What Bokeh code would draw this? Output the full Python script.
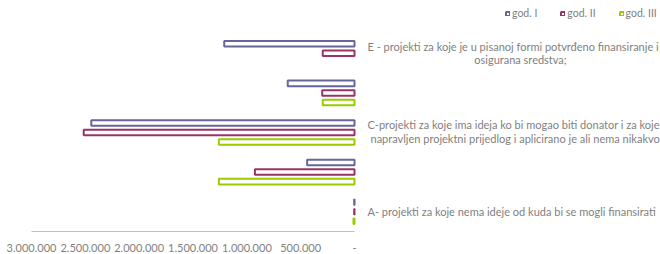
from bokeh.plotting import figure
from bokeh.models import Range1d, FixedTicker, Label, ColumnDataSource
from bokeh.transform import dodge
from bokeh.embed import file_html
from bokeh.resources import INLINE

# ---- data ----
categories = ["A", "B", "C", "D", "E"]
series_names = ["god. I", "god. II", "god. III"]
god_1 = [3000, 440000, 2445000, 620000, 1210000]
god_2 = [3000, 925000, 2515000, 300000, 295000]
god_3 = [9000, 1260000, 1260000, 295000, 0]
tick_values = [0, 500000, 1000000, 1500000, 2000000, 2500000, 3000000]
tick_labels = ["-", "500.000", "1.000.000", "1.500.000", "2.000.000", "2.500.000", "3.000.000"]
label_E = ["E - projekti za koje je u pisanoj formi potvrđeno finansiranje i",
           "osigurana sredstva;"]
label_C = ["C-projekti za koje ima ideja ko bi mogao biti donator i za koje je",
           "napravljen projektni prijedlog i aplicirano je ali nema nikakvog odgovora"]
label_A = ["A- projekti za koje nema ideje od kuda bi se mogli finansirati"]

colors = ["#666699", "#993366", "#99CC00"]
offsets = [0.24, 0.0, -0.24]
TEXT = "#7f7f7f"
FONT = "Lato"

# layout geometry (pixels)
W, H = 660, 254
LEFT, BOTTOM = 31, 23
BAR_AREA = 323                      # pixels from 3.000.000 to 0
BAND = 39.6                         # pixels per category
frame_w = W - LEFT
x_max = tick_values[-1]
x_end = -x_max * (frame_w - BAR_AREA) / BAR_AREA   # room to the right for category texts
y_end = (H - BOTTOM) / BAND                        # room above for the legend

p = figure(width=W, height=H, output_backend="svg", toolbar_location=None,
           x_range=Range1d(x_max, x_end), y_range=Range1d(0, y_end),
           y_axis_location=None, min_border_left=LEFT, min_border_right=0,
           min_border_top=0, min_border_bottom=BOTTOM)
p.outline_line_color = None
p.xgrid.grid_line_color = None
p.ygrid.grid_line_color = None
p.background_fill_color = "white"

cat_pos = {c: i + 0.5 for i, c in enumerate(categories)}

for name, vals, col, off in zip(series_names, [god_1, god_2, god_3], colors, offsets):
    cats = [c for c, v in zip(categories, vals) if v > 0]
    vs = [v for v in vals if v > 0]
    src = ColumnDataSource(dict(pos=[cat_pos[c] for c in cats], val=vs))
    p.hbar(y=dodge("pos", off), left=0, right="val", height=0.14,
           source=src, fill_color="white", line_color=col, line_width=2,
           legend_label=name)

ax = p.xaxis[0]
ax.bounds = (0, x_max)
ax.ticker = FixedTicker(ticks=tick_values)
ax.major_label_overrides = {v: l for v, l in zip(tick_values, tick_labels)}
ax.major_tick_line_color = None
ax.minor_tick_line_color = None
ax.major_tick_out = 0
ax.major_tick_in = 0
ax.major_label_standoff = 12
ax.axis_line_color = "#bfbfbf"
ax.axis_line_width = 1
ax.major_label_text_font = FONT
ax.major_label_text_font_size = "11px"
ax.major_label_text_color = TEXT

lg = p.legend[0]
lg.location = (474, 212)
lg.orientation = "horizontal"
lg.background_fill_alpha = 0
lg.border_line_alpha = 0
lg.padding = 0
lg.margin = 0
lg.spacing = 23
lg.glyph_width = 5
lg.glyph_height = 5
lg.label_standoff = 2
lg.label_height = 10
lg.label_text_font = FONT
lg.label_text_font_size = "10.5px"
lg.label_text_color = TEXT


def add_label(text, cat, xoff, yoff, align):
    p.add_layout(Label(x=0, y=cat_pos[cat], x_offset=xoff, y_offset=yoff, text=text,
                       text_align=align, text_baseline="middle",
                       text_font=FONT, text_font_size="11px", text_color=TEXT))


add_label(label_E[0], "E", 13, 7, "left")
add_label(label_E[1], "E", 166, -6.5, "center")
add_label(label_C[0], "C", 13, 8.5, "left")
add_label(label_C[1], "C", 16, -5.5, "left")
add_label(label_A[0], "A", 13, 0, "left")

open("out.html", "w").write(file_html(p, INLINE))
